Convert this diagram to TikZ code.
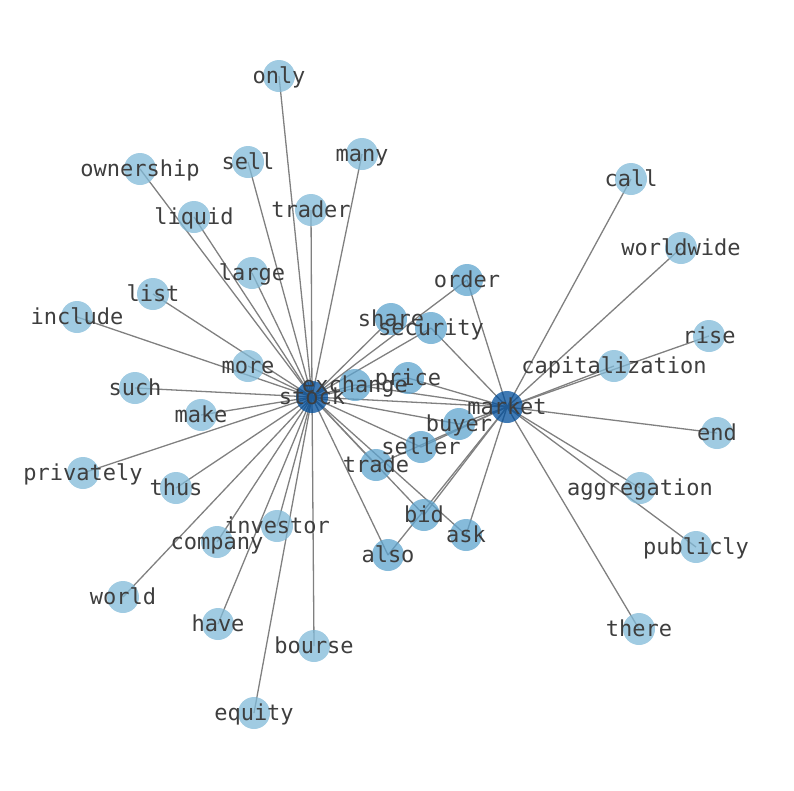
\documentclass[tikz,border=0pt]{standalone}
\usepackage{fontspec}
\setmonofont{DejaVu Sans Mono}
\usepackage{tikz}
\pgfdeclarelayer{edges}
\pgfdeclarelayer{dots}
\pgfsetlayers{edges,dots,main}
\definecolor{dotlight}{RGB}{128,186,216}
\definecolor{dotmid}{RGB}{94,164,206}
\definecolor{dothub}{RGB}{0,78,155}
\definecolor{wordgray}{RGB}{62,62,62}
\tikzstyle{word} = [font=\ttfamily\fontsize{22}{22}\selectfont, text=wordgray, inner sep=0pt, text height=0.76em, text depth=0.24em, yshift=-5pt]
\tikzstyle{link} = [draw=gray, line width=1.3pt]
\tikzstyle{light} = [fill=dotlight, fill opacity=0.75]
\tikzstyle{mid} = [fill=dotmid, fill opacity=0.75]
\tikzstyle{hub} = [fill=dothub, fill opacity=0.75]

\begin{document}
\begin{tikzpicture}[x=1pt, y=-1pt]
\useasboundingbox (0,0) rectangle (794,790);

% the two hubs
\node (stock) [word] at (312,397) {stock};
\node (market) [word] at (507,407) {market};
% words near both hubs
\node (exchange) [word] at (355,385) {exchange};
\node (share) [word] at (391,319) {share};
\node (security) [word] at (431,328) {security};
\node (order) [word] at (467,280) {order};
\node (price) [word] at (408,378) {price};
\node (buyer) [word] at (459,424) {buyer};
\node (seller) [word] at (421,447) {seller};
\node (trade) [word] at (376,465) {trade};
\node (bid) [word] at (424,515) {bid};
\node (ask) [word] at (466,535) {ask};
\node (also) [word] at (388,555) {also};
% words of stock
\node (only) [word] at (279,76) {only};
\node (sell) [word] at (248,162) {sell};
\node (ownership) [word] at (140,169) {ownership};
\node (liquid) [word] at (194,217) {liquid};
\node (trader) [word] at (311,210) {trader};
\node (many) [word] at (362,154) {many};
\node (large) [word] at (252,273) {large};
\node (list) [word] at (153,294) {list};
\node (include) [word] at (77,317) {include};
\node (more) [word] at (248,366) {more};
\node (such) [word] at (135,388) {such};
\node (make) [word] at (201,415) {make};
\node (privately) [word] at (83,473) {privately};
\node (thus) [word] at (176,488) {thus};
\node (world) [word] at (123,597) {world};
\node (company) [word] at (217,542) {company};
\node (investor) [word] at (277,526) {investor};
\node (have) [word] at (218,624) {have};
\node (bourse) [word] at (314,646) {bourse};
\node (equity) [word] at (254,713) {equity};
% words of market
\node (call) [word] at (631,179) {call};
\node (worldwide) [word] at (681,248) {worldwide};
\node (rise) [word] at (709,336) {rise};
\node (capitalization) [word] at (614,366) {capitalization};
\node (end) [word] at (717,433) {end};
\node (aggregation) [word] at (640,488) {aggregation};
\node (publicly) [word] at (696,547) {publicly};
\node (there) [word] at (639,629) {there};

\begin{pgfonlayer}{dots}
\foreach \w in {only,sell,ownership,liquid,trader,many,large,list,include,more,such,make,privately,thus,world,company,investor,have,bourse,equity,call,worldwide,rise,capitalization,end,aggregation,publicly,there}
  \path [light] ([yshift=5pt]\w.center) circle (16);
\foreach \w in {exchange,share,security,order,price,buyer,seller,trade,bid,ask,also}
  \path [mid] ([yshift=5pt]\w.center) circle (16);
\foreach \w in {stock,market}
  \path [hub] ([yshift=5pt]\w.center) circle (16);
\end{pgfonlayer}

\begin{pgfonlayer}{edges}
\foreach \w in {market,exchange,price,share,security,order,buyer,seller,trade,bid,ask,also,only,sell,ownership,liquid,large,trader,many,list,include,more,such,make,privately,thus,world,company,investor,have,equity,bourse}
  \draw [link] ([yshift=5pt]stock.center) -- ([yshift=5pt]\w.center);
\foreach \w in {exchange,price,security,order,buyer,seller,trade,bid,ask,also,call,worldwide,rise,capitalization,end,aggregation,publicly,there}
  \draw [link] ([yshift=5pt]market.center) -- ([yshift=5pt]\w.center);
\end{pgfonlayer}

\end{tikzpicture}
\end{document}
